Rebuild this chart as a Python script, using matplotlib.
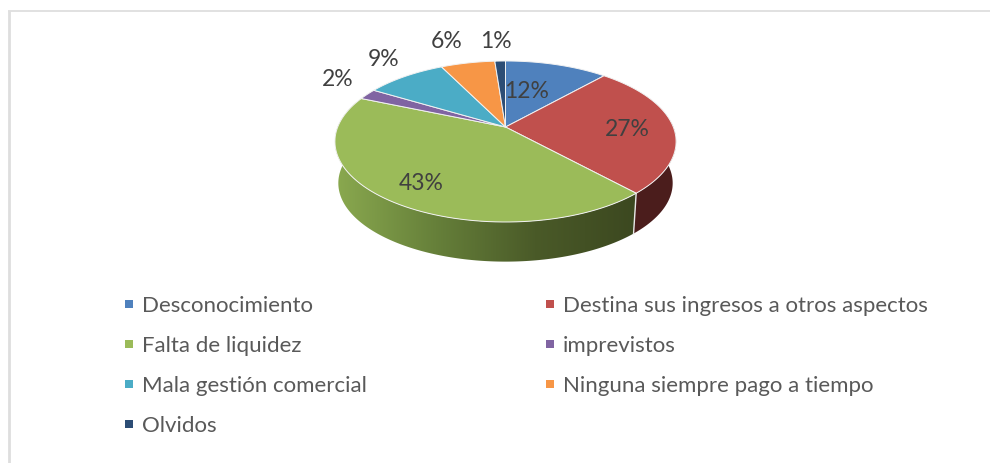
import numpy as np
import matplotlib
matplotlib.use("Agg")
import matplotlib.pyplot as plt
from matplotlib.patches import Polygon, Rectangle
from matplotlib.colors import LinearSegmentedColormap

#---------------------------------DATA--------------------
categories = ['Desconocimiento', 'Destina sus ingresos a otros aspectos', 'Falta de liquidez',
              'imprevistos', 'Mala gestión comercial', 'Ninguna siempre pago a tiempo', 'Olvidos']
values = [11.6, 26.6, 43.2, 2.2, 9.1, 6.1, 1.2]
value_labels = ['12%', '27%', '43%', '2%', '9%', '6%', '1%']
colors = ['#4f81bd', '#c0504d', '#9bbb59', '#8064a2', '#4bacc6', '#f79646', '#2c4d75']

#---------------------------------LAYOUT (pixels)--------------------
W, H = 990, 463
apex_x, apex_y = 505.5, 127
a, b, k = 167.8, 77.9, 0.18   # perspective of the disc
depth = 42
label_pos = [(527, 92), (627, 130), (421, 184), (338, 79), (384, 60), (447, 42), (496, 42)]
legend_y = [304, 344, 384, 424]
legend_x = [(129, 142), (550, 563)]

plt.rcParams['font.family'] = ['Lato', 'DejaVu Sans']
fig = plt.figure(figsize=(W / 100, H / 100), dpi=100)
ax = fig.add_axes([0, 0, 1, 1])
ax.set_xlim(0, W)
ax.set_ylim(H, 0)
ax.axis('off')


def disc_point(t, lower=False):
    #t is clockwise from the top, in radians
    x, y = np.sin(t), np.cos(t)
    w = 1 + k * y
    px = a * x / w
    py = b * y / w
    if lower:
        return apex_x + px * 0.98, apex_y - py * 0.975 + depth
    return apex_x + px, apex_y - py


#--Side wall of the pie, only the front part can be seen
edges = 2 * np.pi * np.cumsum([0] + values) / sum(values)
front = np.linspace(edges[2], edges[3], 200)
top_x, top_y = disc_point(front)
low_x, low_y = disc_point(front, lower=True)
green_side = np.column_stack([np.r_[top_x, low_x[::-1]], np.r_[top_y, low_y[::-1]]])
poly = Polygon(green_side, closed=True, fc='none', ec='none', zorder=1)
ax.add_patch(poly)
green_map = LinearSegmentedColormap.from_list('green_side', ['#3c4820', '#4a5a28', '#66803a', '#8aa94f'])
im = ax.imshow(np.linspace(0, 1, 256)[::-1].reshape(1, -1), cmap=green_map, aspect='auto',
               extent=(335, 636, 270, 100), zorder=1)
im.set_clip_path(poly)
ax.set_xlim(0, W)
ax.set_ylim(H, 0)

front = np.linspace(np.pi / 2 - 0.06, edges[2], 60)
top_x, top_y = disc_point(front)
low_x, low_y = disc_point(front, lower=True)
ax.add_patch(Polygon(np.column_stack([np.r_[top_x, low_x[::-1]], np.r_[top_y, low_y[::-1]]]),
                     closed=True, fc='#4b1d1c', ec='none', zorder=1))

#--Line between the two side faces
x0, y0 = disc_point(edges[2])
x1, y1 = disc_point(edges[2], lower=True)
ax.plot([x0, x1], [y0, y1], color='#e8e8e8', lw=1, zorder=2)

#--Top of the pie
for i in range(len(values)):
    t = np.linspace(edges[i], edges[i + 1], 80)
    xs, ys = disc_point(t)
    pts = np.column_stack([np.r_[apex_x, xs], np.r_[apex_y, ys]])
    ax.add_patch(Polygon(pts, closed=True, fc=colors[i], ec='#f2f2f2', lw=0.7, zorder=3, joinstyle='round'))

for lab, (x, y) in zip(value_labels, label_pos):
    ax.text(x, y, lab, fontsize=16.5, color='#404040', ha='center', va='center', zorder=4)

#--Legend
for i, name in enumerate(categories):
    mx, tx = legend_x[i % 2]
    y = legend_y[i // 2]
    ax.add_patch(Rectangle((mx - 4, y - 4), 8, 8, fc=colors[i], ec='none'))
    ax.text(tx, y + 1.5, name, fontsize=16, color='#595959', ha='left', va='center')

#--Frame, only left and top are visible
ax.plot([8.5, 8.5], [10.5, H], color='#dedede', lw=2, solid_capstyle='butt')
ax.plot([8, W], [10.5, 10.5], color='#dedede', lw=1.3, solid_capstyle='butt')

fig.savefig('out.png', dpi=100)
